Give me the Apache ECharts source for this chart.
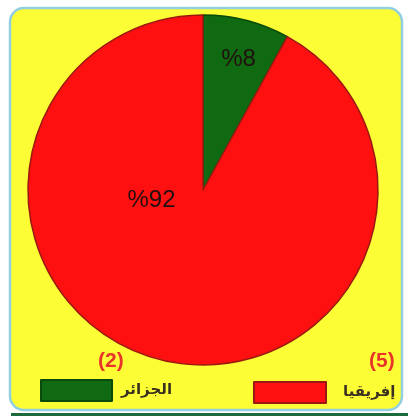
<!DOCTYPE html>
<html>
<head>
<meta charset="utf-8">
<script src="https://cdn.jsdelivr.net/npm/echarts@6/dist/echarts.min.js"></script>
<style>html,body{margin:0;padding:0;background:#fff}#c{width:408px;height:419px}</style>
</head>
<body>
<div id="c"></div>
<script>
const categories = ['الجزائر', 'إفريقيا'];
const values = [8, 92];
const labelTexts = ['%8', '%92'];
const counts = ['(2)', '(5)'];
const colors = ['#0f6a12', '#fe1010'];
const borders = ['#0a4a0c', '#9a1a10'];
const labelOffsets = [[13, -43], [-29, -77]];

const chart = echarts.init(document.getElementById('c'), null, {renderer: 'canvas'});
const option = {
  backgroundColor: '#ffffff',
  animation: false,
  graphic: [
    {type: 'rect', z: -10, shape: {x: 10, y: 8, width: 392, height: 402, r: 14},
     style: {fill: '#fdfd35', stroke: '#92cfe0', lineWidth: 2.5}},
    {type: 'rect', z: -10, shape: {x: 11, y: 413, width: 397, height: 3},
     style: {fill: '#1d6b3c'}},
    {type: 'text', left: 98, top: 351, style: {text: counts[0], fill: '#e8352a', font: 'bold 21px "Liberation Sans", Arial'}},
    {type: 'text', left: 369, top: 351, style: {text: counts[1], fill: '#e8352a', font: 'bold 21px "Liberation Sans", Arial'}}
  ],
  legend: [
    {data: [categories[0]], left: 40, top: 379, padding: 0, itemWidth: 71, itemHeight: 21, itemGap: 10,
     icon: 'rect', textStyle: {fontFamily: 'DejaVu Sans', fontWeight: 'bold', fontSize: 15, color: '#3a3020', padding: [0, 0, 0, 4]}},
    {data: [categories[1]], left: 253, top: 381, padding: 0, itemWidth: 72, itemHeight: 21, itemGap: 10,
     icon: 'rect', textStyle: {fontFamily: 'DejaVu Sans', fontWeight: 'bold', fontSize: 15, color: '#3a3020', padding: [0, 0, 0, 12]}}
  ],
  series: [{
    type: 'pie',
    center: [203, 190],
    radius: [0, 175],
    startAngle: 90,
    clockwise: true,
    z: 2,
    label: {show: true, position: 'inside', fontFamily: '"Liberation Sans", Arial', fontSize: 24, color: '#221010'},
    labelLine: {show: false},
    emphasis: {disabled: true},
    data: categories.map((n, i) => ({
      name: n, value: values[i],
      itemStyle: {color: colors[i], borderColor: borders[i], borderWidth: 1.5},
      label: {formatter: labelTexts[i], offset: labelOffsets[i]}
    }))
  }]
};
chart.setOption(option);
</script>
</body>
</html>
